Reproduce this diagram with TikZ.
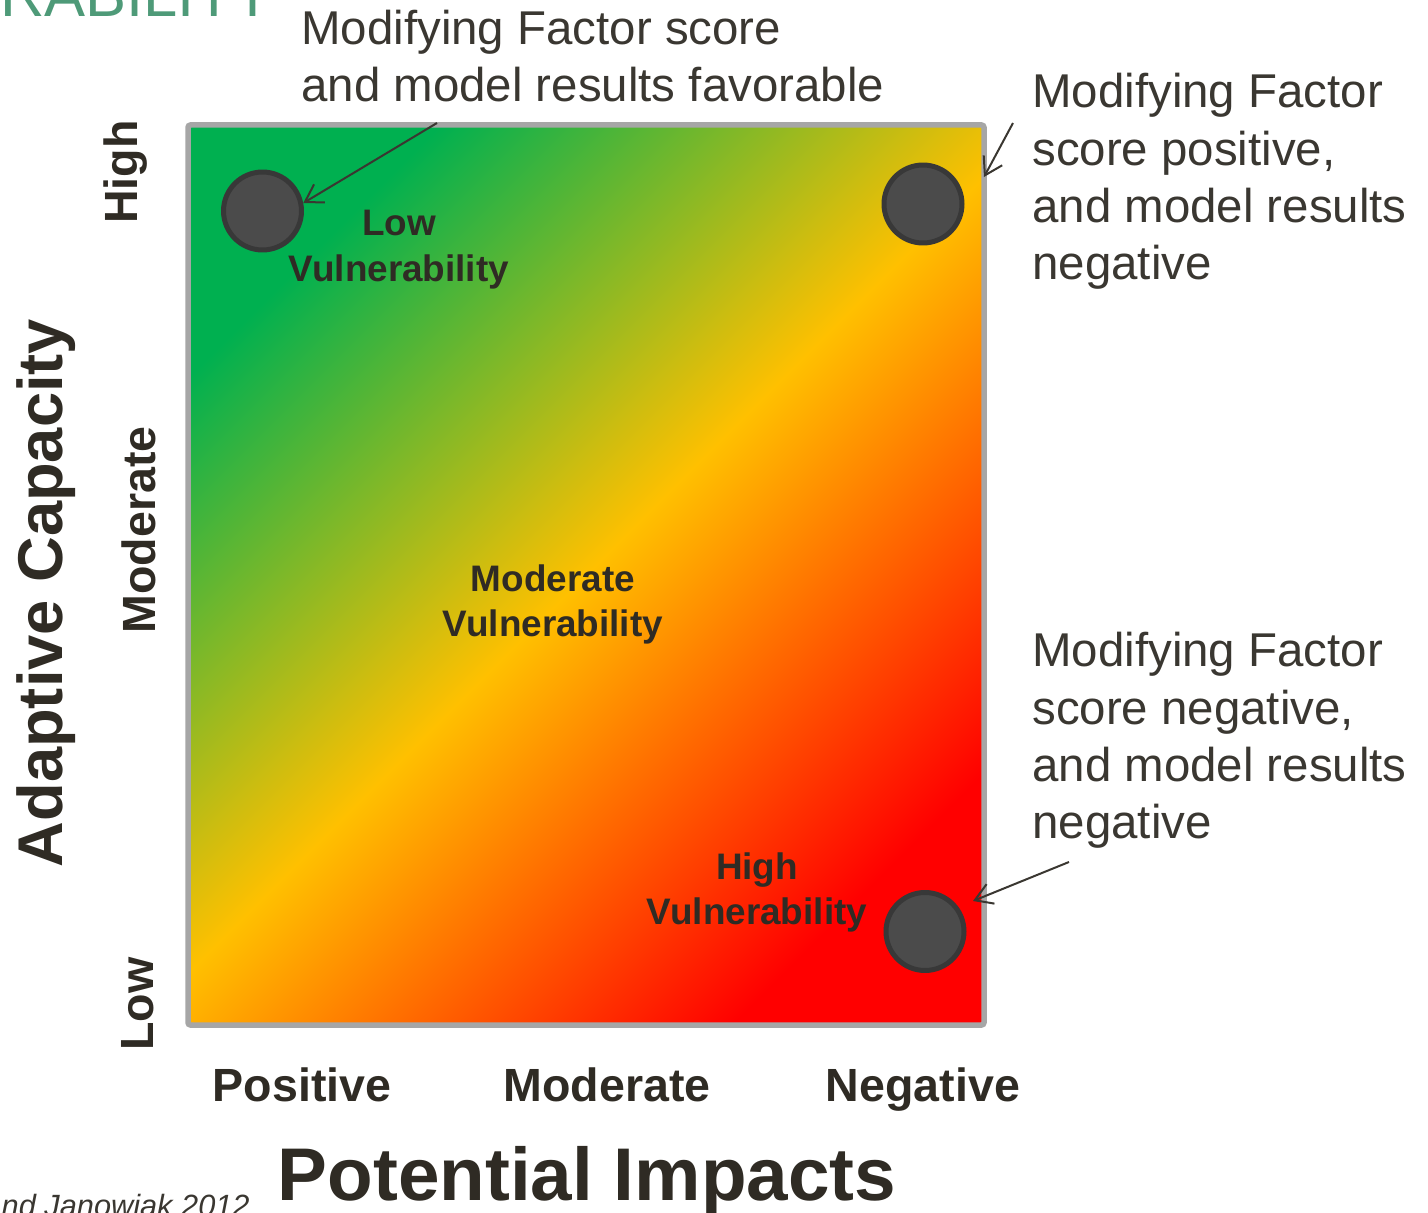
\documentclass[tikz,border=0pt]{standalone}
\usepackage{fontspec}
\setmainfont{Liberation Sans}
\usetikzlibrary{arrows.meta}

\definecolor{vgreen}{HTML}{00B050}
\definecolor{vyellow}{HTML}{FFC000}
\definecolor{vred}{HTML}{FF0000}
\definecolor{framegray}{HTML}{A6A6A6}
\definecolor{dotfill}{HTML}{4B4B4B}
\definecolor{dotline}{HTML}{383838}
\definecolor{inkdark}{HTML}{2F2B24}
\definecolor{notegray}{HTML}{3A3731}
\definecolor{titlegreen}{HTML}{4E9A78}

\pgfdeclarehorizontalshading{vuln}{100bp}{color(0bp)=(vgreen); color(25bp)=(vgreen); color(50bp)=(vyellow); color(75bp)=(vred); color(100bp)=(vred)}

\tikzset{x=0.02cm, y=-0.02cm,
  note/.style={text=notegray, inner sep=0pt, align=left, anchor=north west,
    font=\fontsize{27}{32.6}\selectfont},
  zone/.style={text=inkdark, inner sep=0pt, align=center, anchor=north,
    font=\bfseries\fontsize{21}{26}\selectfont},
  tick/.style={text=inkdark, inner sep=0pt, anchor=base,
    font=\bfseries\fontsize{26.5}{30}\selectfont},
  dot/.style={circle, draw=dotline, fill=dotfill, line width=0.1cm,
    minimum size=1.56cm, inner sep=0pt},
  pointer/.style={draw=notegray, line width=0.04cm,
    -{Straight Barb[length=0.34cm,width=0.42cm]}}}

\begin{document}
\begin{tikzpicture}
  \useasboundingbox (0,0) rectangle (1428,1213);
  \clip (0,0) rectangle (1428,1213);

  % cut-off slide title and source
  \node (ttl) [anchor=base east, inner sep=0pt, text=titlegreen,
    font=\fontsize{35}{40}\selectfont] at (274,17) {VULNERABILITY};
  \node (src) [anchor=base east, inner sep=0pt, text=notegray,
    font=\itshape\fontsize{17.5}{20}\selectfont] at (250,1216) {Swanston and Janowiak 2012};

  % matrix
  \shadedraw[shading=vuln, shading angle=-45, draw=framegray,
    line width=0.11cm, rounded corners=0.05cm] (188,125) rectangle (984,1025);

  \node (TL) [dot] at (262.5,211) {};
  \node (TR) [dot] at (923,204) {};
  \node (BR) [dot] at (925,931.5) {};

  \node (low) [zone] at (399,210) {Low\\Vulnerability};
  \node (mod) [zone] at (553,564) {Moderate\\Vulnerability};
  \node (high) [zone] at (757,852) {High\\Vulnerability};

  % axes
  \node (pos) [tick] at (302,1101) {Positive};
  \node (mid) [tick] at (607,1101) {Moderate};
  \node (neg) [tick] at (923,1101) {Negative};
  \node (imp) [tick, font=\bfseries\fontsize{42.5}{48}\selectfont] at (587,1200) {Potential Impacts};

  \node (hiC) [tick, rotate=90] at (137,172) {High};
  \node (moC) [tick, rotate=90] at (155,530) {Moderate};
  \node (loC) [tick, rotate=90] at (153,1004) {Low};
  \node (cap) [tick, rotate=90, font=\bfseries\fontsize{36}{40}\selectfont] at (62,593) {Adaptive Capacity};

  % notes
  \node (n1) [note] at (301,10) {Modifying Factor score\\and model results favorable};
  \node (n2) [note] at (1032,73) {Modifying Factor\\score positive,\\and model results\\negative};
  \node (n3) [note] at (1032,632) {Modifying Factor\\score negative,\\and model results\\negative};

  \coordinate (s1) at (437,123);
  \coordinate (s2) at (1013,123);
  \coordinate (t2) at (984,177);
  \coordinate (s3) at (1069,862);
  \coordinate (t3) at (973,901);
  \draw[pointer] (s1) -- (TL.11);
  \draw[pointer] (s2) -- (t2);
  \draw[pointer] (s3) -- (t3);
\end{tikzpicture}
\end{document}
